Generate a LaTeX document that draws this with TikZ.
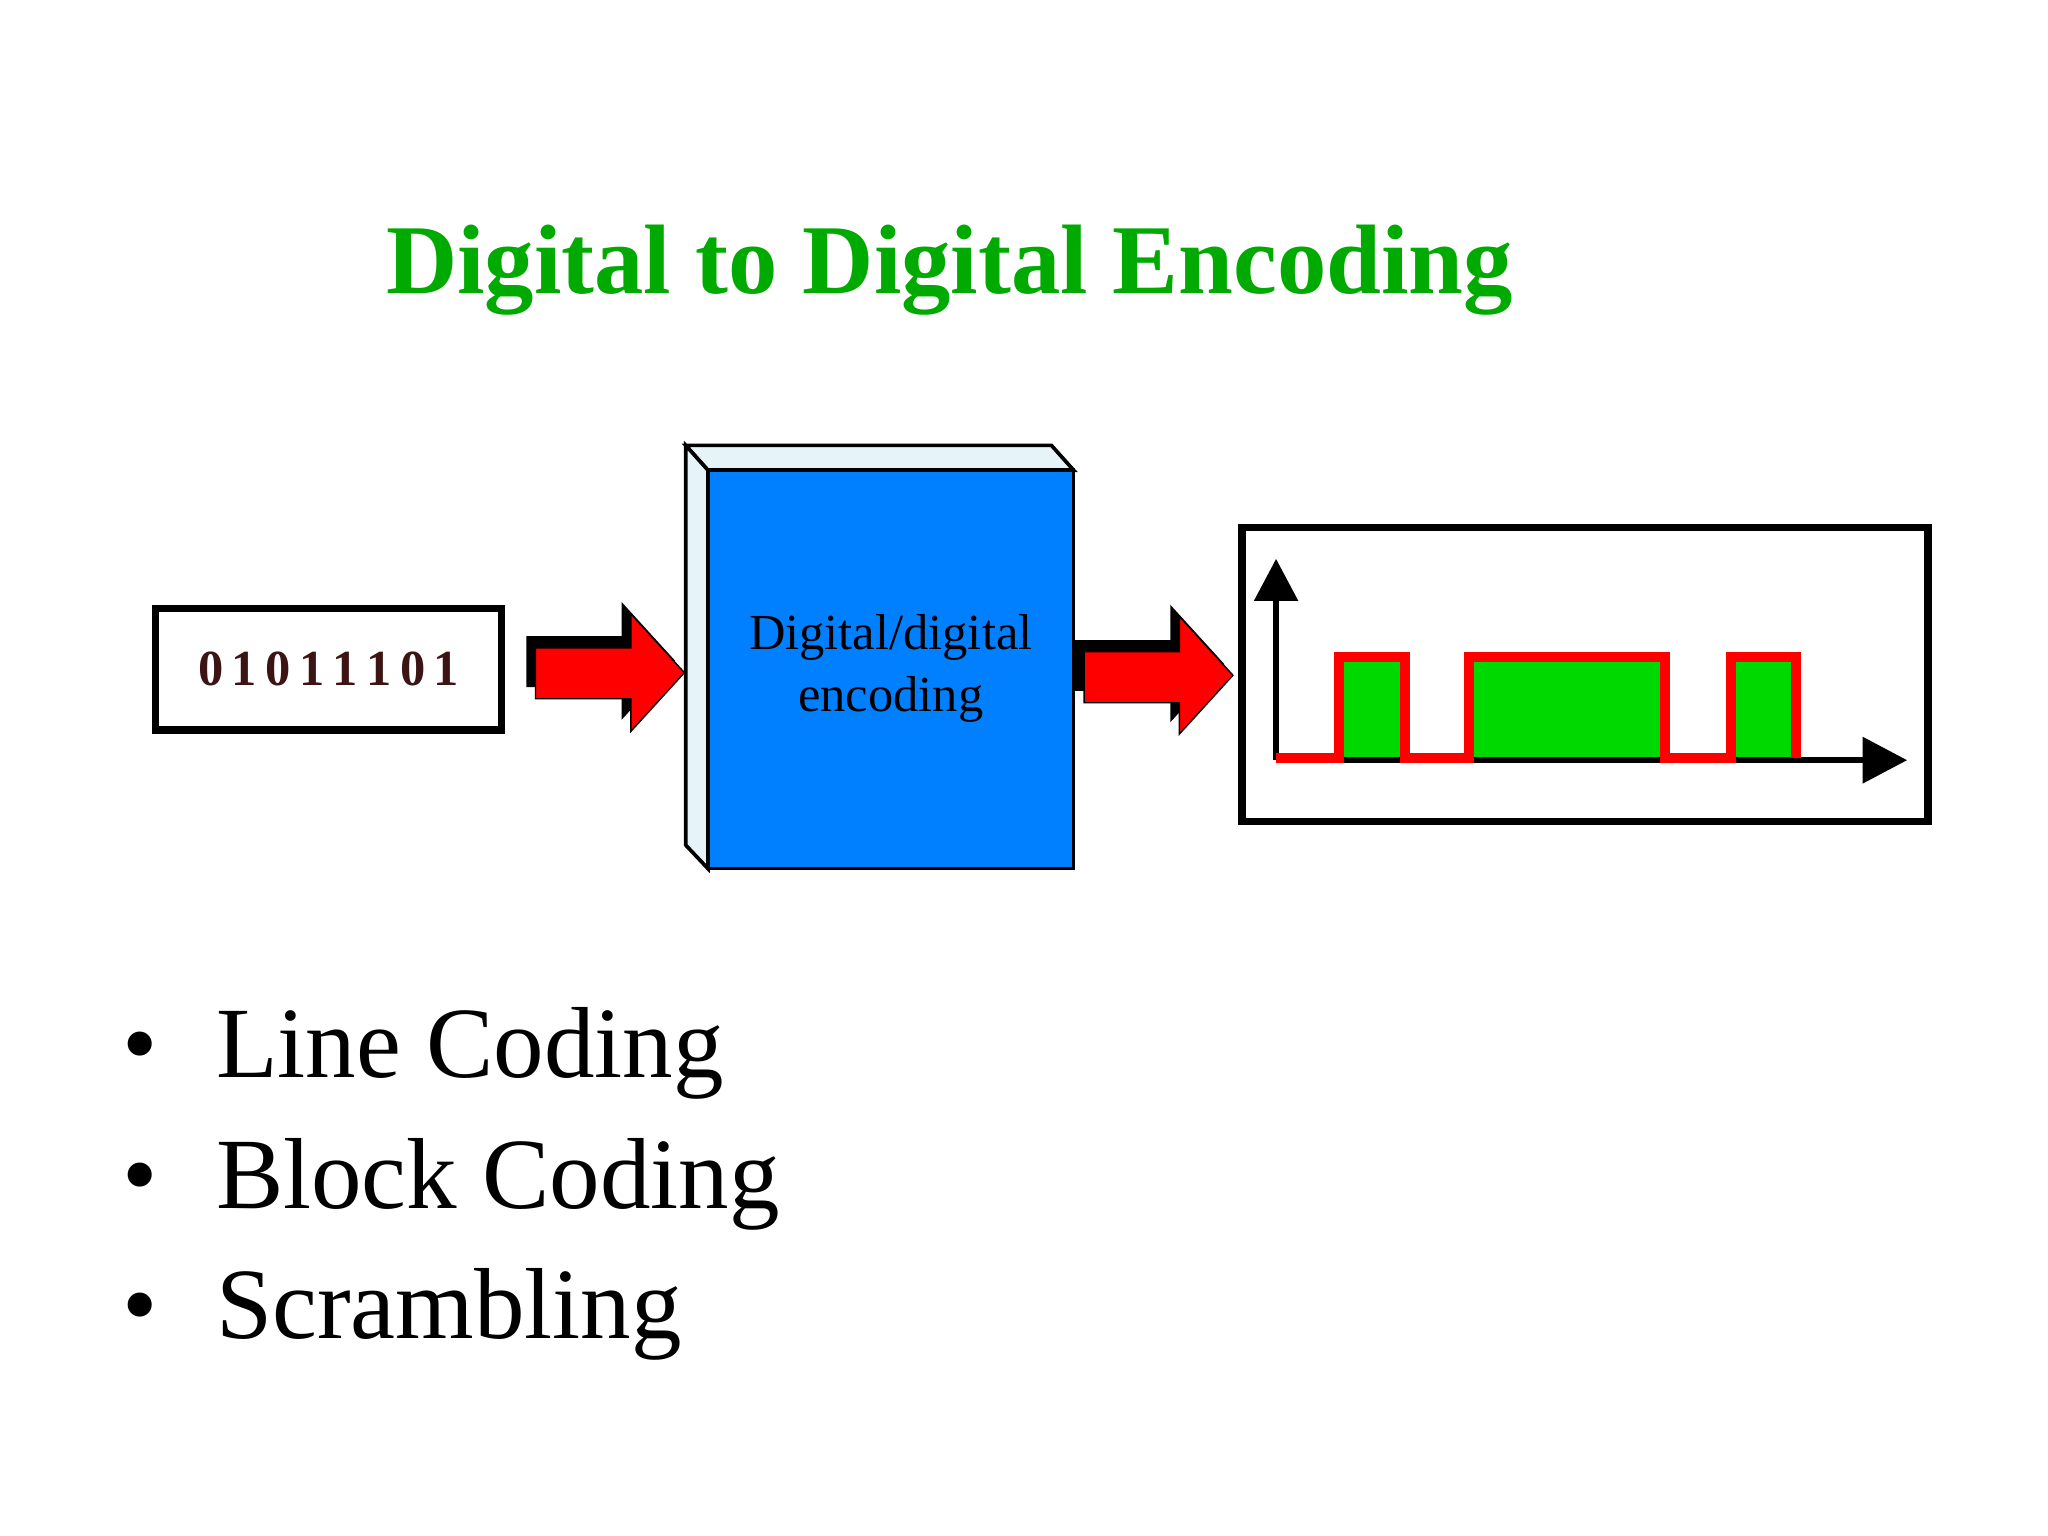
\documentclass[tikz,border=0pt]{standalone}
\usepackage{fontspec}
\setmainfont{Liberation Serif}
\begin{document}
\begin{tikzpicture}[x=0.1mm,y=-0.1mm,
  redarrow/.style={fill=red,draw=black,line width=0.3pt},
  shadow/.style={fill=black},
  bigtext/.style={font=\fontsize{22}{26}\selectfont,anchor=base west}]
\useasboundingbox (0,0) rectangle (1568,1176);
\definecolor{tgreen}{RGB}{0,170,0}
\definecolor{blk}{RGB}{0,128,255}
\definecolor{side}{RGB}{230,244,250}
\node[font=\fontsize{21.5}{26}\bfseries\selectfont,text=tgreen,anchor=base] (title) at (727,225) {Digital to Digital Encoding};
% bits box
\node[draw,line width=1.6pt,minimum width=26.5mm,minimum height=9.3mm,inner sep=0pt,
  font=\fontsize{11}{13}\bfseries\selectfont,text={rgb,255:red,60;green,20;blue,20}] (bits) at (251.5,512.5) {0\,1\,0\,1\,1\,1\,0\,1};
% arrow 1
\fill[shadow] (403,487) -- (476,487) -- (476,461) -- (517,506) -- (476,551) -- (476,526) -- (403,526) -- cycle;
\draw[redarrow] (410,496) -- (483,496) -- (483,470) -- (524,515) -- (483,560) -- (483,535) -- (410,535) -- cycle;
% block
\draw[fill=side,line width=0.8pt] (525,341) -- (805,341) -- (822,360) -- (542,360) -- cycle;
\draw[fill=side,line width=0.8pt] (525,341) -- (542,360) -- (542,665) -- (525,647) -- cycle;
\draw[fill=blk,line width=0.8pt] (542,360) rectangle (822,665);
\node[font=\fontsize{11}{13.5}\selectfont,align=center] (enc) at (682,512) {Digital/digital\\encoding};
% arrow 2
\fill[shadow] (823,490) -- (896,490) -- (896,463) -- (937,508) -- (896,553) -- (896,529) -- (823,529) -- cycle;
\draw[redarrow] (830,499) -- (903,499) -- (903,472) -- (944,517) -- (903,562) -- (903,538) -- (830,538) -- cycle;
% signal box
\draw[line width=1.6pt] (951,404) rectangle (1476,629);
\fill[green!80!black,fill=green!85!black] (1025,503) rectangle (1076,580);
\fill[fill=green!85!black] (1125,503) rectangle (1275,580);
\fill[fill=green!85!black] (1325,503) rectangle (1375,580);
\coordinate (o) at (977,582);
\coordinate (ytip) at (977,428);
\coordinate (xtip) at (1460,582);
\draw[line width=1.2pt] (o) -- (977,458);
\fill (ytip) -- (960,460) -- (994,460) -- cycle;
\draw[line width=1.2pt] (o) -- (1428,582);
\fill (xtip) -- (1426,564) -- (1426,600) -- cycle;
\draw[red,line width=2.2pt] (977,580) -- (1025,580) -- (1025,503) -- (1076,503) -- (1076,580) -- (1125,580) -- (1125,503) -- (1275,503) -- (1275,580) -- (1325,580) -- (1325,503) -- (1375,503) -- (1375,580);
% bullets
\foreach \t/\y/\n in {Line Coding/825/b1, Block Coding/925/b2, Scrambling/1025/b3}{
  \node[bigtext] (\n) at (153,\y) {\t};
  \node[font=\fontsize{22}{26}\selectfont,anchor=base] at (107,\y) {\textbullet};
}
\end{tikzpicture}
\end{document}
